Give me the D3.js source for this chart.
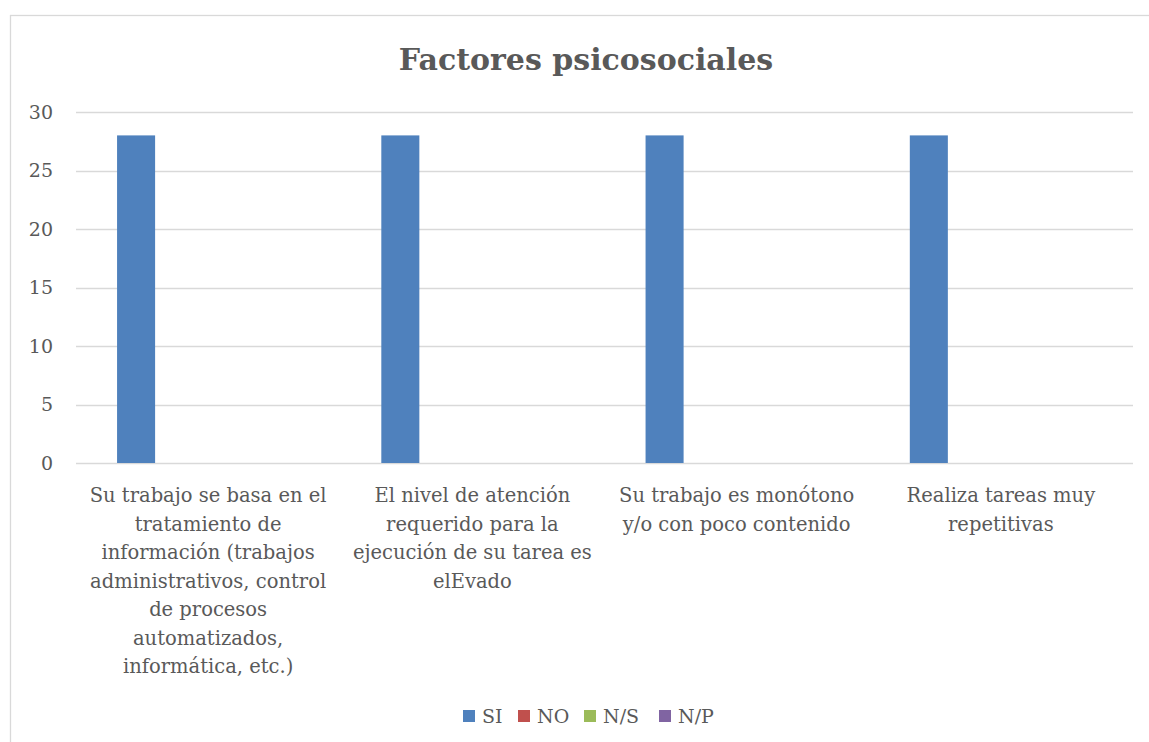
<!DOCTYPE html>
<html>
<head>
<meta charset="utf-8">
<script src="https://cdn.jsdelivr.net/npm/d3@7"></script>
<style>
  body { margin: 0; background: #fff; }
  svg text { font-family: "DejaVu Serif", serif; fill: #595959; }
</style>
</head>
<body>
<svg id="chart" width="1149" height="742"></svg>
<script>
const title = "Factores psicosociales";
const series = ["SI", "NO", "N/S", "N/P"];
const colors = ["#4F81BD", "#C0504D", "#9BBB59", "#8064A2"];
const categoryLines = [
    ["Su trabajo se basa en el", "tratamiento de", "información (trabajos", "administrativos, control", "de procesos", "automatizados,", "informática, etc.)"],
    ["El nivel de atención", "requerido para la", "ejecución de su tarea es", "elEvado"],
    ["Su trabajo es monótono", "y/o con poco contenido"],
    ["Realiza tareas muy", "repetitivas"]
];
const siValues = [28, 28, 28, 28];
const noValues = [0, 0, 0, 0];
const nsValues = [0, 0, 0, 0];
const npValues = [0, 0, 0, 0];
const yTicks = [0, 5, 10, 15, 20, 25, 30];

const valuesBySeries = [siValues, noValues, nsValues, npValues];
const cats = categoryLines.map((d, i) => "c" + i);

const svg = d3.select("#chart");

// chart frame
svg.append("rect")
    .attr("x", 10.5).attr("y", 15.5)
    .attr("width", 1150).attr("height", 740)
    .attr("fill", "#fff")
    .attr("stroke", "#D9D9D9")
    .attr("stroke-width", 1.3);

svg.append("text")
    .attr("x", 586).attr("y", 70)
    .attr("text-anchor", "middle")
    .style("font-size", "30px")
    .style("font-weight", "bold")
    .text(title);

const x0 = d3.scaleBand().domain(cats).range([76, 1133]);
const x1 = d3.scaleBand().domain(series).range([0, x0.bandwidth()])
    .paddingInner(0.208).paddingOuter(0.855);
const y = d3.scaleLinear().domain([0, 30]).range([463, 112]);

// gridlines
svg.append("g")
    .selectAll("line")
    .data(yTicks)
    .enter().append("line")
    .attr("x1", 76).attr("x2", 1133)
    .attr("y1", d => Math.round(y(d)) + 0.5)
    .attr("y2", d => Math.round(y(d)) + 0.5)
    .attr("stroke", "#D9D9D9")
    .attr("stroke-width", 1.3);

// y labels
svg.append("g")
    .selectAll("text")
    .data(yTicks)
    .enter().append("text")
    .attr("x", 53)
    .attr("y", d => y(d))
    .attr("dy", "0.35em")
    .attr("text-anchor", "end")
    .style("font-size", "19px")
    .text(d => d);

// bars
const rows = [];
cats.forEach((c, i) => {
    series.forEach((s, j) => {
        rows.push({ cat: c, s: s, v: valuesBySeries[j][i], color: colors[j] });
    });
});
svg.append("g")
    .selectAll("rect")
    .data(rows)
    .enter().append("rect")
    .attr("x", d => x0(d.cat) + x1(d.s))
    .attr("y", d => y(d.v))
    .attr("width", x1.bandwidth())
    .attr("height", d => y(0) - y(d.v))
    .attr("fill", d => d.color);

// category labels
const catG = svg.append("g");
categoryLines.forEach((lines, i) => {
    const t = catG.append("text")
        .attr("text-anchor", "middle")
        .style("font-size", "19.5px");
    lines.forEach((ln, k) => {
        t.append("tspan")
            .attr("x", x0(cats[i]) + x0.bandwidth() / 2)
            .attr("y", 502 + k * 28.5)
            .text(ln);
    });
});

// legend
const legendX = [463, 518, 584, 659];
const lg = svg.append("g");
series.forEach((s, j) => {
    lg.append("rect")
        .attr("x", legendX[j]).attr("y", 710)
        .attr("width", 12).attr("height", 12)
        .attr("fill", colors[j]);
    lg.append("text")
        .attr("x", legendX[j] + 19).attr("y", 723)
        .style("font-size", "19px")
        .text(s);
});
</script>
</body>
</html>
